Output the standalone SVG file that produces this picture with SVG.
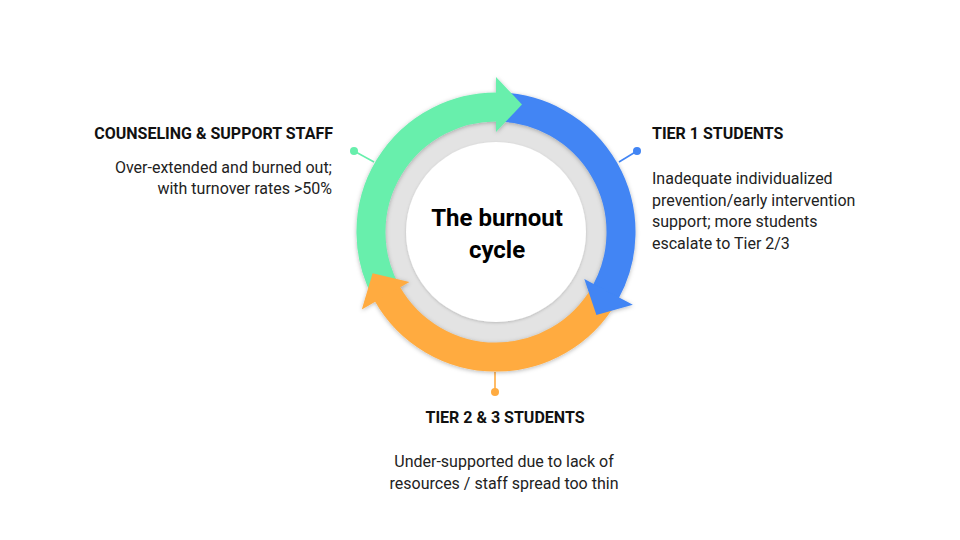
<svg xmlns="http://www.w3.org/2000/svg" width="960" height="540" viewBox="0 0 960 540">
  <defs>
    <filter id="sh" x="-20%" y="-20%" width="140%" height="140%">
      <feDropShadow dx="0" dy="1" stdDeviation="2" flood-color="#000" flood-opacity="0.28"/>
    </filter>
    <filter id="sh2" x="-20%" y="-20%" width="140%" height="140%">
      <feDropShadow dx="0" dy="1" stdDeviation="1.5" flood-color="#000" flood-opacity="0.18"/>
    </filter>
    <style>
      .title { font-family: Roboto, "Liberation Sans", sans-serif; font-weight: 700; font-size: 16px; fill: #111; }
      .body { font-family: Roboto, "Liberation Sans", sans-serif; font-size: 16px; fill: #222; }
      .center { font-family: Roboto, "Liberation Sans", sans-serif; font-weight: 700; font-size: 24px; fill: #000; }
      .arc { fill: none; stroke-width: 29; }
      .lead { fill: none; stroke-width: 1.6; }
    </style>
  </defs>
  <rect width="960" height="540" fill="#fff"/>

  <g id="ring">
    <circle cx="496" cy="232" r="118" fill="#e3e3e3"/>
    <circle cx="496" cy="232" r="90" fill="#fff" filter="url(#sh2)"/>
    <text class="center" x="497" y="226" text-anchor="middle">The burnout</text>
    <text class="center" x="497" y="258" text-anchor="middle">cycle</text>
  </g>

  <g id="connectors">
    <path class="lead" d="M354,151 L374,162" stroke="#67efac"/>
    <circle cx="354" cy="151" r="4" fill="#67efac"/>
    <path class="lead" d="M637,151 L619,162" stroke="#4285f4"/>
    <circle cx="637" cy="151" r="4" fill="#4285f4"/>
    <path class="lead" d="M495,372 L495,392" stroke="#ffab40"/>
    <circle cx="495" cy="392" r="4" fill="#ffab40"/>
  </g>

  <g id="cycle" filter="url(#sh)">
    <path id="green-body" class="arc" stroke="#67efac" d="M385.6,290.7 A125,125 0 0 1 497.1,107"/>
    <path id="blue-body" class="arc" stroke="#4285f4" d="M500.4,107.1 A125,125 0 0 1 605.9,291.6"/>
    <path id="orange-body" class="arc" stroke="#ffab40" d="M604.3,294.5 A125,125 0 0 1 387.2,293.6"/>
    <polygon id="green-head" fill="#67efac" points="496,132 496,77 522,104.5"/>
    <polygon id="blue-head" fill="#4285f4" points="584.3,279 632.8,304.8 596.4,314.9"/>
    <polygon id="orange-head" fill="#ffab40" points="409.4,282 361.8,309.5 372.6,273.3"/>
  </g>

  <g id="staff">
    <text class="title" x="333" y="139" text-anchor="end">COUNSELING &amp; SUPPORT STAFF</text>
    <text class="body" x="332" y="173" text-anchor="end">Over-extended and burned out;</text>
    <text class="body" x="332" y="194" text-anchor="end">with turnover rates &gt;50%</text>
  </g>

  <g id="tier1">
    <text class="title" x="652" y="139">TIER 1 STUDENTS</text>
    <text class="body" x="652" y="184">Inadequate individualized</text>
    <text class="body" x="652" y="205.5">prevention/early intervention</text>
    <text class="body" x="652" y="227">support; more students</text>
    <text class="body" x="652" y="248.5">escalate to Tier 2/3</text>
  </g>

  <g id="tier23">
    <text class="title" x="505" y="423" text-anchor="middle">TIER 2 &amp; 3 STUDENTS</text>
    <text class="body" x="504" y="467" text-anchor="middle">Under-supported due to lack of</text>
    <text class="body" x="504" y="489" text-anchor="middle">resources / staff spread too thin</text>
  </g>
</svg>
